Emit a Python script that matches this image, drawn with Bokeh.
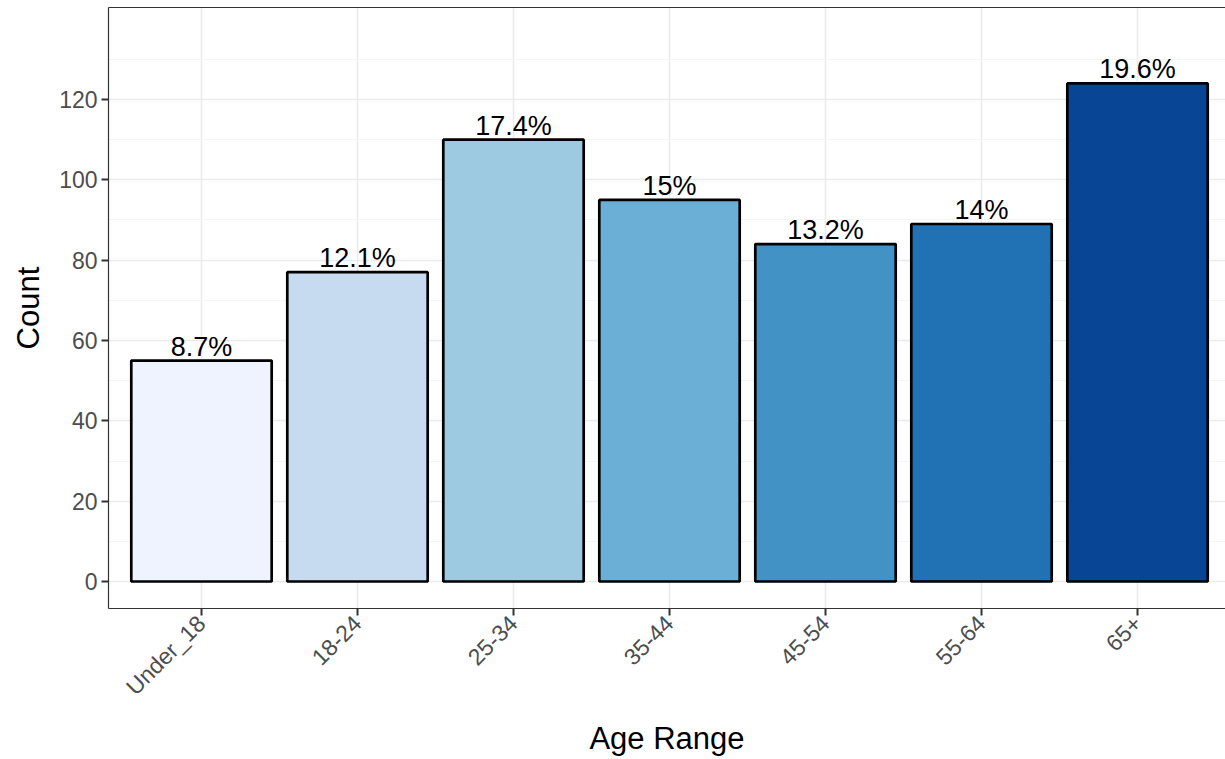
import math
from bokeh.plotting import figure
from bokeh.models import ColumnDataSource, Range1d, FixedTicker, LinearAxis
from bokeh.embed import file_html
from bokeh.resources import INLINE

categories = ["Under_18", "18-24", "25-34", "35-44", "45-54", "55-64", "65+"]
counts = [55, 77, 110, 95, 84, 89, 124]
pct_labels = ["8.7%", "12.1%", "17.4%", "15%", "13.2%", "14%", "19.6%"]
colors = ["#EFF3FF", "#C6DBEF", "#9ECAE1", "#6BAED6", "#4292C6", "#2171B5", "#084594"]
y_ticks = [0, 20, 40, 60, 80, 100, 120]

FONT = "Liberation Sans"
BORDER = "#333333"
xs = list(range(1, len(categories) + 1))
src = ColumnDataSource(dict(x=xs, count=counts, label=pct_labels, color=colors))

p = figure(width=1225, height=759, output_backend="svg", toolbar_location=None,
           x_range=Range1d(0.404, 7.564), y_range=Range1d(-6.72, 142.9),
           min_border_left=108, min_border_right=0, min_border_top=7, min_border_bottom=151)

p.vbar(x="x", top="count", width=0.9, source=src, fill_color="color",
       line_color="black", line_width=2.7)
p.text(x="x", y="count", text="label", source=src, text_align="center",
       text_baseline="bottom", y_offset=1, text_font_size="27px",
       text_color="black", text_font={"value": FONT})

p.outline_line_color = None
p.background_fill_color = "white"

p.xaxis.ticker = FixedTicker(ticks=xs)
p.xaxis.major_label_overrides = {x: c for x, c in zip(xs, categories)}
p.xaxis.major_label_orientation = math.pi / 4
p.yaxis.ticker = FixedTicker(ticks=y_ticks, minor_ticks=[t + 10 for t in y_ticks])

for ax in (p.xaxis[0], p.yaxis[0]):
    ax.axis_line_color = BORDER
    ax.axis_line_width = 1.2
    ax.major_tick_line_color = BORDER
    ax.major_tick_line_width = 2
    ax.major_tick_out = 7
    ax.major_tick_in = 0
    ax.minor_tick_line_color = None
    ax.major_label_text_font = FONT
    ax.major_label_text_font_size = "23px"
    ax.major_label_text_color = "#4D4D4D"
    ax.major_label_standoff = 4
    ax.axis_label_text_font = FONT
    ax.axis_label_text_font_size = "31px"
    ax.axis_label_text_font_style = "normal"
    ax.axis_label_text_color = "black"

p.xaxis.axis_label = "Age Range"
p.yaxis.axis_label = "Count"
p.xaxis.axis_label_standoff = 9
p.yaxis.axis_label_standoff = 10

top_axis = LinearAxis(axis_line_color=BORDER, axis_line_width=1.2,
                      major_tick_line_color=None, minor_tick_line_color=None,
                      major_tick_out=0, major_tick_in=0, major_label_standoff=0,
                      major_label_text_font_size="0px", ticker=FixedTicker(ticks=[]))
p.add_layout(top_axis, "above")

p.xgrid.ticker = FixedTicker(ticks=xs)
p.xgrid.grid_line_color = "#EBEBEB"
p.xgrid.grid_line_width = 1.5
p.ygrid.grid_line_color = "#EBEBEB"
p.ygrid.grid_line_width = 1.5
p.ygrid.minor_grid_line_color = "#F5F5F5"
p.ygrid.minor_grid_line_width = 1

open("out.html", "w").write(file_html(p, INLINE))
